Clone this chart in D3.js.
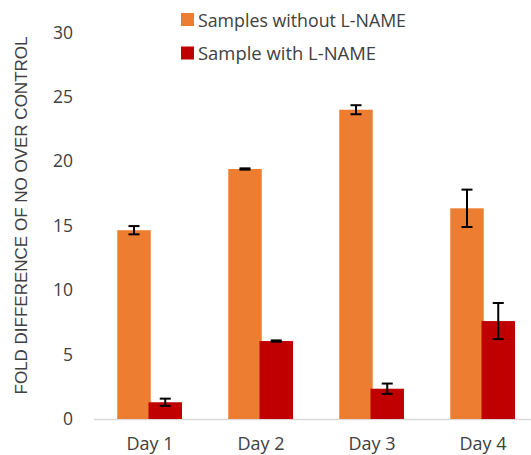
<!DOCTYPE html>
<html><head><meta charset="utf-8">
<script src="https://cdn.jsdelivr.net/npm/d3@7"></script>
<style>body{margin:0;background:#fff}svg{display:block}text{font-family:"Open Sans",sans-serif;fill:#404040}</style>
</head><body>
<svg id="c" width="531" height="455"></svg>
<script>
const categories = ["Day 1","Day 2","Day 3","Day 4"];
const seriesNames = ["Samples without L-NAME","Sample with L-NAME"];
const withoutLNAME = [14.65, 19.4, 24.0, 16.35];
const withoutErr = [0.32, 0.05, 0.35, 1.45];
const withLNAME = [1.3, 6.05, 2.35, 7.6];
const withErr = [0.28, 0.05, 0.4, 1.4];
const yTicks = [0,5,10,15,20,25,30];
const colors = ["#ED7D31","#C00000"];

const svg = d3.select("#c");
const x = d3.scaleBand().domain(categories).range([94.5, 538.5]).paddingInner(0).paddingOuter(0);
const y = d3.scaleLinear().domain([0,30]).range([419, 32.4]);
const barW = 33.5;

const series = [
  {name: seriesNames[0], vals: withoutLNAME, errs: withoutErr, color: colors[0]},
  {name: seriesNames[1], vals: withLNAME, errs: withErr, color: colors[1]}
];

// y tick labels
svg.append("g").selectAll("text").data(yTicks).join("text")
  .attr("x", 73).attr("y", d => y(d)).attr("dy", "0.35em")
  .attr("text-anchor", "end").style("font-size", "17.5px").text(d => d);

// axis line
svg.append("line").attr("x1", 94).attr("x2", 531).attr("y1", 419.5).attr("y2", 419.5)
  .attr("stroke", "#d9d9d9").attr("stroke-width", 1.5);

series.forEach((s, si) => {
  const off = c => x(c) + x.bandwidth()/2 - barW + si*(barW-1.5) + (si===0?0.75:0);
  svg.append("g").selectAll("rect").data(categories).join("rect")
    .attr("x", off)
    .attr("width", barW)
    .attr("y", (c,i) => y(s.vals[i]))
    .attr("height", (c,i) => y(0) - y(s.vals[i]))
    .attr("fill", s.color);
  const eg = svg.append("g").attr("stroke", "#000").attr("stroke-width", 2);
  categories.forEach((c,i) => {
    const xc = off(c) + barW/2, hi = y(s.vals[i]+s.errs[i]), lo = y(s.vals[i]-s.errs[i]);
    eg.append("line").attr("x1", xc).attr("x2", xc).attr("y1", hi).attr("y2", lo);
    eg.append("line").attr("x1", xc-5.5).attr("x2", xc+5.5).attr("y1", hi).attr("y2", hi);
    eg.append("line").attr("x1", xc-5.5).attr("x2", xc+5.5).attr("y1", lo).attr("y2", lo);
  });
});

// x labels
svg.append("g").selectAll("text").data(categories).join("text")
  .attr("x", c => x(c) + x.bandwidth()/2).attr("y", 450)
  .attr("text-anchor", "middle").style("font-size", "18px").text(c => c);

// y title
svg.append("text").attr("transform", "translate(27,215.5) rotate(-90)")
  .attr("text-anchor", "middle")
  .style("font-family", "'Liberation Sans', Arial, sans-serif").style("font-size", "17px")
  .text("FOLD DIFFERENCE OF NO OVER CONTROL");

// legend
const lg = svg.append("g");
series.forEach((s, i) => {
  lg.append("rect").attr("x", 181).attr("y", 13 + i*33.5).attr("width", 13).attr("height", 13).attr("fill", s.color);
  lg.append("text").attr("x", 198).attr("y", 26.5 + i*33.5).style("font-size", "19px")
    .attr("textLength", i === 0 ? 208 : 178).attr("lengthAdjust", "spacingAndGlyphs").text(s.name);
});
</script>
</body></html>
